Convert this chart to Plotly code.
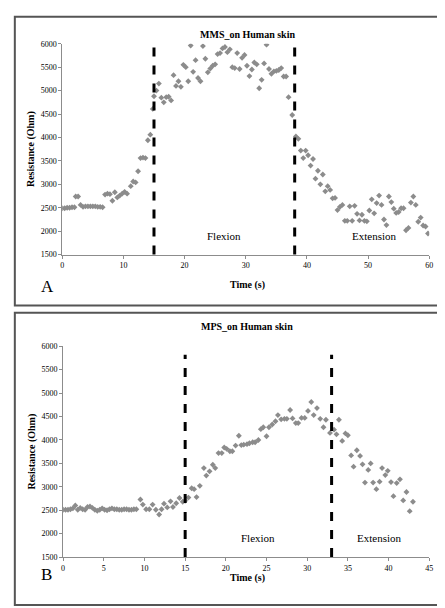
import plotly.graph_objects as go
from plotly.subplots import make_subplots

# Panel A: MMS on human skin
tA = [0,0.4,0.8,1.2,1.6,2.0,2.2,2.6,3.0,3.4,3.8,4.2,4.6,5.0,5.4,5.8,6.2,6.6,7.0,7.4,7.8,8.2,8.6,9.0,9.4,9.8,
      10.2,10.6,11.2,11.6,12.0,12.4,12.8,13.2,13.6,14.0,14.4,14.8,15.0,15.4,15.8,16.2,16.6,17.0,17.4,17.8,18.2,
      18.6,19.0,19.4,19.8,20.2,20.6,21.0,21.4,21.8,22.2,22.6,23.0,23.4,23.8,24.2,24.6,25.0,25.4,25.8,26.2,26.6,
      27.0,27.4,27.8,28.2,28.6,29.0,29.4,29.8,30.2,30.6,31.0,31.4,31.8,32.2,32.6,33.0,33.4,33.8,34.2,34.6,35.0,
      35.4,35.8,36.2,36.6,37.0,37.6,38.2,38.6,39.0,39.4,39.8,40.2,40.6,41.0,41.4,41.8,42.2,42.6,43.0,43.4,43.8,
      44.2,44.6,45.0,45.4,45.8,46.2,46.6,47.0,47.4,47.8,48.2,48.6,49.0,49.4,49.8,50.2,50.6,51.0,51.4,51.8,52.2,
      52.6,53.0,53.4,53.8,54.2,54.6,55.0,55.4,55.8,56.2,56.6,57.0,57.4,57.8,58.2,58.6,59.0,59.4,59.8]
rA = [2490,2490,2500,2500,2510,2510,2740,2740,2560,2520,2530,2530,2530,2530,2530,2520,2520,2510,2780,2800,
      2790,2650,2830,2720,2760,2800,2840,2800,2960,3060,3040,3280,3560,3570,3560,3940,4060,4610,4880,5000,5150,
      4850,4750,4860,4870,4790,5330,5100,5200,5080,5550,5500,5200,5960,5400,5650,5270,5200,5950,5680,5390,5470,
      5530,5560,5780,5800,5900,5930,5820,5880,5500,5480,5800,5460,5700,5760,5530,5310,5450,5600,5560,5050,5230,
      5580,5980,5460,5360,5410,5420,5440,5480,5300,5300,4860,4480,4020,3970,3720,3560,3720,3620,3400,3540,3120,
      3290,3000,3210,2850,2960,2880,2700,2710,2450,2520,2560,2220,2220,2530,2220,2540,2370,2230,2350,2220,2210,
      2440,2680,2380,2600,2760,2560,2250,2130,2740,2620,2480,2390,2410,2490,2490,2020,2070,2610,2740,2560,2200,
      2290,2120,2100,1950]

# Panel B: MPS on human skin
tB = [0,0.3,0.6,0.9,1.2,1.5,1.8,2.1,2.4,2.7,3.0,3.3,3.6,3.9,4.2,4.5,4.8,5.1,5.4,5.7,6.0,6.3,6.6,6.9,7.2,7.5,
      7.8,8.1,8.4,8.7,9.0,9.5,9.8,10.2,10.6,11.0,11.4,11.8,12.1,12.4,12.8,13.2,13.5,13.9,14.3,14.7,15.0,15.4,
      15.8,16.1,16.4,16.8,17.3,17.6,18.0,18.4,18.7,19.1,19.5,19.8,20.1,20.5,20.8,21.2,21.6,21.9,22.2,22.6,22.9,
      23.3,23.6,24.0,24.3,24.6,25.0,25.3,25.7,26.1,26.4,26.8,27.2,27.5,27.9,28.2,28.6,28.9,29.3,29.7,30.1,30.5,
      30.8,31.2,31.6,32.0,32.3,32.8,33.3,33.6,33.9,34.3,34.7,35.0,35.4,35.7,36.1,36.5,36.8,37.1,37.5,37.8,38.1,
      38.5,38.9,39.2,39.6,39.9,40.3,40.6,41.0,41.4,41.8,42.2,42.6,43.0]
rB = [2510,2510,2510,2520,2540,2600,2510,2550,2520,2510,2570,2580,2550,2510,2490,2510,2540,2510,2500,2520,
      2540,2520,2520,2510,2510,2520,2520,2510,2510,2520,2520,2730,2620,2520,2520,2620,2510,2410,2520,2640,2560,
      2690,2570,2650,2760,2680,2700,2770,2970,2950,2780,3020,3400,3240,3330,3470,3400,3720,3720,3840,3810,3760,
      3760,3880,4090,3890,3900,3910,3930,3950,3950,4000,4230,4270,4080,4270,4330,4400,4530,4440,4450,4450,4640,
      4460,4360,4360,4470,4470,4620,4810,4530,4680,4450,4270,4430,4150,4220,4120,4430,3980,4140,4100,3670,3430,
      3780,3660,3480,3090,3360,3500,3090,2950,3110,3400,3250,3340,3100,2800,3080,3160,2710,2890,2480,2680]

serif = "Liberation Serif"
grey = "#8c8c8c"

fig = make_subplots(rows=2, cols=1)
fig.add_trace(go.Scatter(x=tA, y=rA, mode="markers",
                         marker=dict(symbol="diamond", size=4.5, color=grey)), row=1, col=1)
fig.add_trace(go.Scatter(x=tB, y=rB, mode="markers",
                         marker=dict(symbol="diamond", size=4.5, color=grey)), row=2, col=1)

# phase boundaries
for xv, ax in [(15, ""), (38, ""), (15, "2"), (33, "2")]:
    fig.add_shape(type="line", xref="x" + ax, yref="y" + ax + " domain",
                  x0=xv, x1=xv, y0=0, y1=1.02 if ax == "" else 0.96,
                  line=dict(color="black", width=3, dash="dash"))

# panel frames
fig.add_shape(type="rect", xref="paper", yref="paper", x0=0.011, x1=0.975, y0=0.51, y1=0.992,
              line=dict(color="#555555", width=2))
fig.add_shape(type="rect", xref="paper", yref="paper", x0=0.011, x1=0.975, y0=0.01, y1=0.498,
              line=dict(color="#555555", width=2))

ann = [
    dict(text="<b>MMS_on Human skin</b>", x=0.54, y=0.975),
    dict(text="<b>MPS_on Human skin</b>", x=0.54, y=0.475),
    dict(text="<b>Time (s)</b>", x=0.54, y=0.545),
    dict(text="<b>Time (s)</b>", x=0.54, y=0.042),
]
for a in ann:
    fig.add_annotation(xref="paper", yref="paper", showarrow=False,
                       font=dict(family=serif, size=10, color="black"), **a)
fig.add_annotation(text="A", xref="paper", yref="paper", x=0.065, y=0.542, showarrow=False,
                   font=dict(family=serif, size=17, color="black"))
fig.add_annotation(text="B", xref="paper", yref="paper", x=0.065, y=0.042, showarrow=False,
                   font=dict(family=serif, size=17, color="black"))
for xv, txt, ax in [(26.5, "Flexion", ""), (51, "Extension", ""), (24, "Flexion", "2"), (38.8, "Extension", "2")]:
    fig.add_annotation(text=txt, x=xv, y=1900, xref="x" + ax, yref="y" + ax, showarrow=False,
                       font=dict(family=serif, size=11, color="black"))

axis_common = dict(showgrid=False, zeroline=False, showline=True, linecolor=grey,
                   ticks="outside", ticklen=3, tickcolor=grey,
                   tickfont=dict(family=serif, size=8, color="black"))
fig.update_xaxes(**axis_common)
fig.update_yaxes(**axis_common, range=[1500, 6000], dtick=500,
                 title=dict(text="<b>Resistance (Ohm)</b>", standoff=4,
                            font=dict(family=serif, size=10, color="black")))
fig.update_xaxes(range=[0, 60], dtick=10, domain=[0.119, 0.955], row=1, col=1)
fig.update_xaxes(range=[0, 45], dtick=5, domain=[0.121, 0.955], row=2, col=1)
fig.update_yaxes(domain=[0.595, 0.947], row=1, col=1)
fig.update_yaxes(domain=[0.09, 0.442], row=2, col=1)

fig.update_layout(width=445, height=608, margin=dict(l=0, r=0, t=0, b=0),
                  showlegend=False, plot_bgcolor="white", paper_bgcolor="white")
fig.write_html("out.html")
